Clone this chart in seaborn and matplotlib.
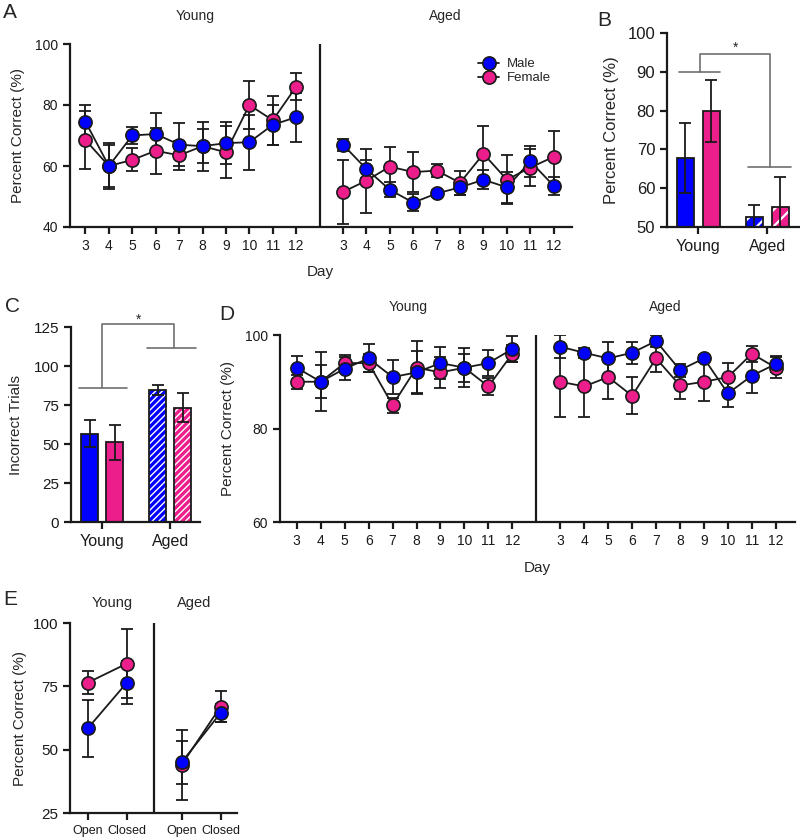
import numpy as np
import pandas as pd
import matplotlib
matplotlib.use('Agg')
import matplotlib.pyplot as plt
from matplotlib.lines import Line2D
from matplotlib.patches import Rectangle
import seaborn as sns

# ---- data ----
days = [3, 4, 5, 6, 7, 8, 9, 10, 11, 12]
ages = ['Young', 'Aged']
phases = ['Open', 'Closed']

# A: percent correct per day
a_young_male = [74.5, 60, 70, 70.5, 67, 66.5, 67.5, 67.8, 73.5, 76]
a_young_male_sem = [5.5, 7.5, 2.7, 7, 7, 8, 7, 9, 6.5, 8]
a_young_female = [68.5, 60, 62, 65, 63.5, 66.5, 64.5, 80, 75, 86]
a_young_female_sem = [9.5, 7, 3.8, 7.5, 4.8, 5.5, 8.5, 8, 8, 4.5]
a_aged_male = [67, 59, 52.2, 48, 51, 53, 55.5, 53, 61.5, 53.5]
a_aged_male_sem = [2, 3, 2.5, 2.8, 1.2, 2.5, 3.2, 5, 5, 3]
a_aged_female = [51.5, 55.2, 59.8, 58, 58.5, 54.5, 64, 55.5, 59.5, 63]
a_aged_female_sem = [10.5, 10.5, 6.5, 6.5, 2, 4, 9, 8, 6, 8.5]

# B: mean percent correct
b_male = [67.8, 52.7]
b_male_sem = [9, 3]
b_female = [80, 55.2]
b_female_sem = [8, 7.7]

# C: incorrect trials
c_male = [56.5, 84.7]
c_male_sem = [8.7, 3.2]
c_female = [51, 73.3]
c_female_sem = [11.5, 9.3]

# D: percent correct per day
d_young_male = [93, 90, 92.8, 95, 91, 92, 94, 93, 94, 97]
d_young_male_sem = [2.5, 6.3, 2.4, 3, 3.7, 4.5, 3.5, 4.2, 2.8, 2.8]
d_young_female = [90, 90, 94, 94, 85, 93, 92, 93, 89, 96]
d_young_female_sem = [1.5, 3.5, 1.7, 2, 1.6, 5.7, 3.3, 3, 1.8, 1.8]
d_aged_male = [97.5, 96.2, 95, 96.2, 98.7, 92.5, 95, 87.5, 91.3, 93.8]
d_aged_male_sem = [2.5, 1.1, 3.5, 2.3, 1.2, 1.4, 0.7, 3, 3.8, 1.7]
d_aged_female = [90, 89, 91, 87, 95, 89.2, 90, 91, 96, 93]
d_aged_female_sem = [7.6, 6.5, 4.6, 4, 3, 2.8, 4.2, 3, 1.7, 2.2]

# E: open vs closed
e_young_male = [58.5, 76.5]
e_young_male_sem = [11.2, 8.5]
e_young_female = [76.5, 84]
e_young_female_sem = [4.7, 13.5]
e_aged_male = [45, 64.5]
e_aged_male_sem = [8.5, 3.5]
e_aged_female = [44, 67]
e_aged_female_sem = [13.8, 6.2]

BLUE = '#0000FF'
PINK = '#EC1E8C'
GRAY = '#707070'
pal = {'Male': BLUE, 'Female': PINK}

sns.set_theme(style='ticks')
plt.rcParams['font.family'] = ['Liberation Sans', 'DejaVu Sans']
plt.rcParams['axes.linewidth'] = 1.6
plt.rcParams['xtick.major.width'] = 1.6
plt.rcParams['ytick.major.width'] = 1.6
plt.rcParams['xtick.major.size'] = 5
plt.rcParams['ytick.major.size'] = 5
plt.rcParams['xtick.color'] = 'k'
plt.rcParams['ytick.color'] = 'k'
plt.rcParams['axes.edgecolor'] = 'k'

W, H = 800, 838
fig = plt.figure(figsize=(W / 100, H / 100), dpi=100)


def px_axes(l, t, r, b):
    return fig.add_axes([l / W, 1 - b / H, (r - l) / W, (b - t) / H])


def ftext(x, y, s, size, **kw):
    fig.text(x / W, 1 - y / H, s, fontsize=size, ha='center', va='center', **kw)


def draw_series(ax, x, vals, sem, color):
    ax.errorbar(x, vals, yerr=sem, fmt='none', ecolor='k', elinewidth=1.3,
                capsize=4.5, capthick=1.3, zorder=2)
    sns.lineplot(x=x, y=vals, color='k', linewidth=1.3, ax=ax, zorder=3,
                 estimator=None, sort=False)
    sns.scatterplot(x=x, y=vals, color=color, s=90, edgecolor='k',
                    linewidth=1.2, ax=ax, zorder=4)


def day_panel(ax, ym, yms, yf, yfs, am, ams, af, afs):
    pos_y = np.arange(len(days))
    pos_a = np.arange(len(days)) + len(days) + 1
    for pos, f, fs, m, ms in [(pos_y, yf, yfs, ym, yms), (pos_a, af, afs, am, ams)]:
        draw_series(ax, pos, f, fs, PINK)
        draw_series(ax, pos, m, ms, BLUE)
    ax.axvline(len(days), color='k', lw=1.6)
    ax.set_xticks(list(pos_y) + list(pos_a))
    ax.set_xticklabels(days + days)
    ax.set_xlim(-0.66, 20.78)
    sns.despine(ax=ax)


def bar_panel(ax, male, male_sem, female, female_sem, hatch, width, gap, hlw):
    plt.rcParams['hatch.linewidth'] = hlw
    df = pd.DataFrame({'age': ages * 2, 'sex': ['Male'] * 2 + ['Female'] * 2,
                       'val': male + female, 'err': male_sem + female_sem})
    sns.barplot(data=df, x='age', y='val', hue='sex', order=ages,
                hue_order=['Male', 'Female'], palette=pal, width=width, gap=gap,
                errorbar=None, edgecolor='k', linewidth=1.3, legend=False,
                saturation=1, ax=ax, zorder=2)
    bars = list(ax.patches)
    for p in bars:
        cx = p.get_x() + p.get_width() / 2
        gi = int(round(cx))
        sex = 'Male' if cx < gi else 'Female'
        row = df[(df['age'] == ages[gi]) & (df['sex'] == sex)].iloc[0]
        if ages[gi] == 'Aged':
            p.set_hatch(hatch)
            p.set_edgecolor('white')
            p.set_linewidth(0)
            if hasattr(p, 'set_hatch_linewidth'):
                p.set_hatch_linewidth(hlw)
            ax.add_patch(Rectangle((p.get_x(), p.get_y()), p.get_width(),
                                   p.get_height(), fill=False, edgecolor='k',
                                   lw=1.3, zorder=3))
        ax.errorbar([cx], [row['val']], yerr=[row['err']], fmt='none', ecolor='k',
                    elinewidth=1.3, capsize=4.5, capthick=1.3, zorder=4)
    ax.set_xlabel('')
    sns.despine(ax=ax)


def bracket(ax, left, right, mid_l, mid_r, y_l, y_r, y_top, star_x, star_y):
    kw = dict(color=GRAY, lw=1.2, clip_on=False, zorder=5)
    ax.plot(left, [y_l, y_l], **kw)
    ax.plot(right, [y_r, y_r], **kw)
    ax.plot([mid_l, mid_l, mid_r, mid_r], [y_l, y_top, y_top, y_r], **kw)
    ax.text(star_x, star_y, '*', ha='center', va='center', fontsize=10,
            clip_on=False)


# ---- A ----
axA = px_axes(70, 44, 572, 227)
day_panel(axA, a_young_male, a_young_male_sem, a_young_female, a_young_female_sem,
          a_aged_male, a_aged_male_sem, a_aged_female, a_aged_female_sem)
axA.set_ylim(40, 100)
axA.set_yticks([40, 60, 80, 100])
axA.tick_params(labelsize=10)
axA.set_ylabel('Percent Correct (%)', fontsize=11)
axA.yaxis.set_label_coords(-0.09, 0.5)
ftext(10, 12, 'A', 15)
ftext(195, 16, 'Young', 10)
ftext(445, 16, 'Aged', 10)
ftext(320, 272, 'Day', 11)
handles = [Line2D([], [], color='k', lw=1.3, marker='o', ms=9.5, mfc=c,
                  mec='k', mew=1.2) for c in (BLUE, PINK)]
fig.legend(handles, ['Male', 'Female'], loc='upper left',
           bbox_to_anchor=(478 / W, 1 - 58 / H), frameon=False, fontsize=9.5,
           handlelength=1.6, handletextpad=0.6, labelspacing=0.15,
           borderpad=0, borderaxespad=0)

# ---- B ----
axB = px_axes(667, 33, 799, 227)
bar_panel(axB, b_male, b_male_sem, b_female, b_female_sem, '//', 0.754, 0.35, 1.6)
axB.set_ylim(50, 100)
axB.set_yticks(range(50, 101, 10))
axB.set_xlim(-0.45, 1.46)
axB.tick_params(axis='y', labelsize=12)
axB.tick_params(axis='x', labelsize=11.5)
axB.set_ylabel('Percent Correct (%)', fontsize=12)
axB.yaxis.set_label_coords(-0.36, 0.5)
bracket(axB, [-0.275, 0.32], [0.725, 1.35], 0.03, 1.04, 90, 65.5, 94.5, 0.54, 96.3)
ftext(604, 20, 'B', 15)

# ---- C ----
axC = px_axes(71, 327, 200, 522)
bar_panel(axC, c_male, c_male_sem, c_female, c_female_sem, '/////', 0.735, 0.32, 1.0)
axC.set_ylim(0, 125)
axC.set_yticks(range(0, 126, 25))
axC.set_xlim(-0.46, 1.44)
axC.tick_params(axis='y', labelsize=11)
axC.tick_params(axis='x', labelsize=11.5)
axC.set_ylabel('Incorrect Trials', fontsize=11)
axC.yaxis.set_label_coords(-0.37, 0.5)
bracket(axC, [-0.34, 0.37], [0.66, 1.38], 0.0, 1.06, 85.9, 111.5, 126.9, 0.53, 129.5)
ftext(12, 306, 'C', 15)

# ---- D ----
axD = px_axes(280, 335, 795, 522)
day_panel(axD, d_young_male, d_young_male_sem, d_young_female, d_young_female_sem,
          d_aged_male, d_aged_male_sem, d_aged_female, d_aged_female_sem)
axD.set_xlim(-0.7, 20.8)
axD.set_ylim(60, 100)
axD.set_yticks([60, 80, 100])
axD.tick_params(labelsize=10)
axD.set_ylabel('Percent Correct (%)', fontsize=11)
axD.yaxis.set_label_coords(-0.087, 0.5)
ftext(227, 315, 'D', 15)
ftext(408, 307, 'Young', 10)
ftext(665, 307, 'Aged', 10)
ftext(537, 568, 'Day', 11)

# ---- E ----
axE = px_axes(70, 623, 237, 813)
e_pos_y = np.arange(len(phases))
e_pos_a = np.arange(len(phases)) + 2.4
draw_series(axE, e_pos_y, e_young_female, e_young_female_sem, PINK)
draw_series(axE, e_pos_y, e_young_male, e_young_male_sem, BLUE)
draw_series(axE, e_pos_a, e_aged_female, e_aged_female_sem, PINK)
draw_series(axE, e_pos_a, e_aged_male, e_aged_male_sem, BLUE)
axE.axvline(1.7, color='k', lw=1.6)
axE.set_xticks(list(e_pos_y) + list(e_pos_a))
axE.set_xticklabels(phases + phases)
axE.set_xlim(-0.46, 3.82)
axE.set_ylim(25, 100)
axE.set_yticks([25, 50, 75, 100])
axE.tick_params(axis='y', labelsize=11)
axE.tick_params(axis='x', labelsize=9)
axE.set_ylabel('Percent Correct (%)', fontsize=11)
axE.yaxis.set_label_coords(-0.26, 0.5)
sns.despine(ax=axE)
ftext(10, 599, 'E', 15)
ftext(112, 603, 'Young', 10.5)
ftext(194, 603, 'Aged', 10.5)

fig.savefig('out.png', dpi=100)
